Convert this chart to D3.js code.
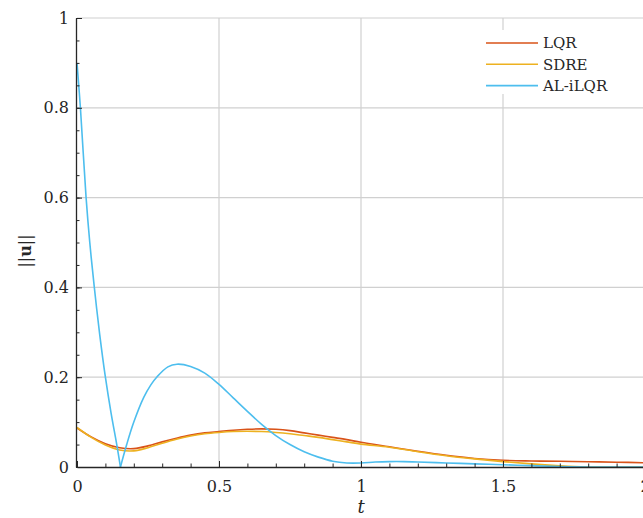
<!DOCTYPE html>
<html>
<head>
<meta charset="utf-8">
<script src="https://cdn.jsdelivr.net/npm/d3@7"></script>
<style>
  body { margin: 0; background: #fff; }
  svg { display: block; }
  text { font-family: 'DejaVu Serif', 'Liberation Serif', 'Times New Roman', serif; fill: #262626; }
</style>
</head>
<body>
<div id="chart"></div>
<script>
// data
const seriesNames = ['LQR', 'SDRE', 'AL-iLQR'];
const seriesColors = ['#D95319', '#EDB120', '#4DBEEE'];

const lqrT = [0, 0.05, 0.1, 0.15, 0.2, 0.25, 0.3, 0.35, 0.4, 0.45, 0.5, 0.55, 0.6, 0.65, 0.7, 0.75, 0.8, 0.85, 0.9, 0.95, 1.0, 1.1, 1.2, 1.3, 1.4, 1.5, 1.6, 1.7, 1.8, 1.9, 2.0];
const lqrU = [0.087, 0.067, 0.052, 0.043, 0.041, 0.047, 0.056, 0.064, 0.071, 0.076, 0.079, 0.082, 0.084, 0.085, 0.084, 0.081, 0.076, 0.071, 0.066, 0.061, 0.055, 0.045, 0.035, 0.026, 0.019, 0.015, 0.0135, 0.0127, 0.0118, 0.0107, 0.0095];

const sdreT = [0, 0.05, 0.1, 0.15, 0.2, 0.25, 0.3, 0.35, 0.4, 0.45, 0.5, 0.55, 0.6, 0.65, 0.7, 0.75, 0.8, 0.85, 0.9, 0.95, 1.0, 1.1, 1.2, 1.3, 1.4, 1.5, 1.6, 1.7, 1.75, 1.8, 2.0];
const sdreU = [0.088, 0.066, 0.049, 0.038, 0.036, 0.043, 0.053, 0.062, 0.069, 0.074, 0.077, 0.079, 0.0795, 0.079, 0.077, 0.074, 0.07, 0.066, 0.061, 0.056, 0.051, 0.044, 0.034, 0.025, 0.018, 0.012, 0.007, 0.0025, 0.0008, 0, 0];

// AL-iLQR: first part falls to the cusp, second part starts there
const iLqrT = [0, 0.012, 0.032, 0.045, 0.061, 0.08, 0.1, 0.12, 0.14, 0.153,
  0.175, 0.2, 0.235, 0.26, 0.282, 0.32, 0.352, 0.4, 0.45, 0.5, 0.55, 0.6, 0.65, 0.7, 0.75, 0.8, 0.85, 0.9, 0.95, 1.0, 1.05, 1.1, 1.15, 1.2, 1.3, 1.4, 1.5, 1.6, 1.7, 1.8, 2.0];
const iLqrU = [0.9, 0.8, 0.6, 0.5, 0.4, 0.295, 0.2, 0.12, 0.05, 0.0,
  0.05, 0.1, 0.155, 0.183, 0.201, 0.223, 0.229, 0.224, 0.209, 0.184, 0.154, 0.124, 0.095, 0.07, 0.05, 0.034, 0.022, 0.013, 0.009, 0.009, 0.011, 0.012, 0.012, 0.011, 0.009, 0.007, 0.005, 0.003, 0.001, 0, 0];
const cuspIndex = 9;

const xTicks = [0, 0.5, 1, 1.5, 2];
const yTicks = [0, 0.2, 0.4, 0.6, 0.8, 1];

const W = 643, H = 518;
const margin = { left: 77, top: 18 };
const plotW = 568, plotH = 449;
const fontFam = "'DejaVu Serif', 'Liberation Serif', 'Times New Roman', serif";

const svg = d3.select('#chart').append('svg')
  .attr('width', W)
  .attr('height', H);

const x = d3.scaleLinear().domain([0, 2]).range([0, plotW]);
const y = d3.scaleLinear().domain([0, 1]).range([plotH, 0]);

const g = svg.append('g')
  .attr('transform', `translate(${margin.left},${margin.top})`);

// grid
g.append('g')
  .selectAll('line')
  .data(xTicks.filter(d => d > 0))
  .join('line')
  .attr('x1', d => x(d)).attr('x2', d => x(d))
  .attr('y1', 0).attr('y2', plotH)
  .attr('stroke', '#d0d0d0')
  .attr('stroke-width', 1.2);

g.append('g')
  .selectAll('line')
  .data(yTicks.filter(d => d > 0))
  .join('line')
  .attr('x1', 0).attr('x2', plotW)
  .attr('y1', d => y(d)).attr('y2', d => y(d))
  .attr('stroke', '#d0d0d0')
  .attr('stroke-width', 1.2);

// lines
svg.append('clipPath').attr('id', 'clip')
  .append('rect').attr('x', 0).attr('y', -5).attr('width', plotW).attr('height', plotH + 5);

const line = d3.line()
  .x(d => x(d[0]))
  .y(d => y(d[1]))
  .curve(d3.curveCatmullRom.alpha(0.5));

const lines = g.append('g').attr('clip-path', 'url(#clip)');

const lqr = lqrT.map((t, i) => [t, lqrU[i]]);
const sdre = sdreT.map((t, i) => [t, sdreU[i]]);
const iLqr = iLqrT.map((t, i) => [t, iLqrU[i]]);

const paths = [
  { data: lqr, color: seriesColors[0] },
  { data: sdre, color: seriesColors[1] },
  { data: iLqr.slice(0, cuspIndex + 1), color: seriesColors[2] },
  { data: iLqr.slice(cuspIndex), color: seriesColors[2] }
];

lines.selectAll('path')
  .data(paths)
  .join('path')
  .attr('d', d => line(d.data))
  .attr('fill', 'none')
  .attr('stroke', d => d.color)
  .attr('stroke-width', 1.6)
  .attr('stroke-linejoin', 'round');

// axes
const xMinor = d3.range(0, 2.01, 0.1).map(d => +d.toFixed(2));
const yMinor = d3.range(0, 1.001, 0.05).map(d => +d.toFixed(2));

g.append('g')
  .attr('transform', `translate(0,${plotH})`)
  .call(d3.axisBottom(x).tickValues(xMinor).tickSize(-3.5).tickSizeOuter(0).tickFormat(''))
  .call(a => a.select('.domain').remove())
  .selectAll('line').attr('stroke', '#262626');

g.append('g')
  .attr('transform', `translate(-1,0)`)
  .call(d3.axisLeft(y).tickValues(yMinor).tickSize(-3.5).tickSizeOuter(0).tickFormat(''))
  .call(a => a.select('.domain').remove())
  .selectAll('line').attr('stroke', '#262626');

const xAxis = g.append('g')
  .attr('transform', `translate(0,${plotH})`)
  .call(d3.axisBottom(x).tickValues(xTicks).tickSize(-6).tickSizeOuter(0).tickPadding(14).tickFormat(d3.format('')));

xAxis.attr('font-family', fontFam);
xAxis.select('.domain').attr('stroke', '#262626').attr('stroke-width', 1.3);
xAxis.selectAll('line').attr('stroke', '#262626');
xAxis.selectAll('text').attr('font-size', 16).attr('fill', '#262626');

const yAxis = g.append('g')
  .attr('transform', `translate(-1,0)`)
  .call(d3.axisLeft(y).tickValues(yTicks).tickSize(-6).tickSizeOuter(0).tickPadding(7).tickFormat(d3.format('')));

yAxis.attr('font-family', fontFam);
yAxis.select('.domain').attr('stroke', '#262626').attr('stroke-width', 1.3);
yAxis.selectAll('line').attr('stroke', '#262626');
yAxis.selectAll('text').attr('font-size', 16).attr('fill', '#262626');

// axis labels
svg.append('text')
  .attr('x', margin.left + x(1))
  .attr('y', 513)
  .attr('text-anchor', 'middle')
  .attr('font-size', 18)
  .attr('font-style', 'italic')
  .text('t');

const yl = svg.append('text')
  .attr('transform', 'translate(31,251) rotate(-90)')
  .attr('text-anchor', 'middle')
  .attr('font-size', 16);
yl.append('tspan').text('||');
yl.append('tspan').attr('font-weight', 'bold').text('u');
yl.append('tspan').text('||');

// legend
const legend = svg.append('g').attr('transform', 'translate(478,30)');
legend.append('rect')
  .attr('width', 146).attr('height', 64)
  .attr('fill', '#fff');

const rows = legend.selectAll('g')
  .data(seriesNames)
  .join('g')
  .attr('transform', (d, i) => `translate(0,${13 + i * 21.3})`);

rows.append('line')
  .attr('x1', 8).attr('x2', 60)
  .attr('stroke', (d, i) => seriesColors[i])
  .attr('stroke-width', 1.6);

rows.append('text')
  .attr('x', 65)
  .attr('dy', '0.35em')
  .attr('font-size', 15)
  .text(d => d);
</script>
</body>
</html>
